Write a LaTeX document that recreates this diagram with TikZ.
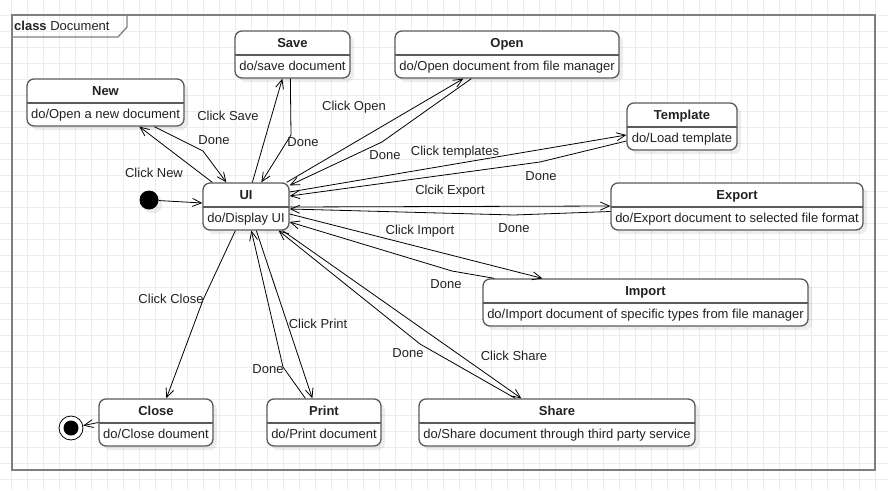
\documentclass[tikz,border=0pt]{standalone}
\usepackage{fontspec}
\setmainfont{Liberation Sans}
\usetikzlibrary{arrows.meta,shadows}

\definecolor{gridgray}{HTML}{EDEDED}
\definecolor{framegray}{HTML}{7F7F7F}
\definecolor{boxgray}{HTML}{5A5A5A}
\definecolor{txtgray}{HTML}{222222}

\begin{document}
\begin{tikzpicture}[x=1pt,y=-1pt]
	\tikzstyle{every node}+=[inner sep=0pt, text=txtgray, font=\fontsize{13}{23}\selectfont]
	\tikzstyle{state}=[draw=boxgray, line width=1.3pt, rounded corners=7pt, fill=white,
		minimum height=47pt, align=center, text height=35pt, text depth=4pt,
		drop shadow={shadow xshift=4pt, shadow yshift=-4pt, fill=black, opacity=0.07},
		path picture={\draw[boxgray, line width=1.3pt] ([yshift=-24pt]path picture bounding box.north west) -- ([yshift=-24pt]path picture bounding box.north east);}]
	\tikzstyle{trans}=[draw=black, line width=0.8pt, -{Straight Barb[length=9pt,width=8pt]}]
	\tikzstyle{gridline}=[draw=gridgray, line width=1pt]
	\useasboundingbox (0,0) rectangle (888,490);
	% background grid
	\foreach \gx in {11.5,27.5,...,888} \draw[gridline] (\gx,0) -- (\gx,490);
	\foreach \gy in {15.5,31.5,...,490} \draw[gridline] (0,\gy) -- (888,\gy);
	% frame
	\draw[framegray, line width=2pt] (11.5,15) rectangle (875,470);
	\draw[framegray, line width=1.3pt] (11.5,37) -- (118,37) -- (127,27) -- (127,15);
	\node[anchor=west] (tag) at (14,25.5) {\textbf{class} Document};
	% states
	\node[state, minimum width=115pt] (Save) at (292.5,54.5) {\textbf{Save}\\do/save document};
	\node[state, minimum width=224pt] (Open) at (507,54.5) {\textbf{Open}\\do/Open document from file manager};
	\node[state, minimum width=157pt] (New) at (105.5,102.5) {\textbf{New}\\do/Open a new document};
	\node[state, minimum width=110pt] (Template) at (682,126.5) {\textbf{Template}\\do/Load template};
	\node[state, minimum width=86pt] (UI) at (246,206.5) {\textbf{UI}\\do/Display UI};
	\node[state, minimum width=252pt] (Export) at (737,206.5) {\textbf{Export}\\do/Export document to selected file format};
	\node[state, minimum width=325pt] (Import) at (645.5,302.5) {\textbf{Import}\\do/Import document of specific types from file manager};
	\node[state, minimum width=114pt] (Close) at (156,422.5) {\textbf{Close}\\do/Close doument};
	\node[state, minimum width=114pt] (Print) at (324,422.5) {\textbf{Print}\\do/Print document};
	\node[state, minimum width=276pt] (Share) at (557,422.5) {\textbf{Share}\\do/Share document through third party service};
	\node[circle, fill=black, minimum size=19pt, drop shadow={shadow xshift=4pt, shadow yshift=-4pt, fill=black, opacity=0.07}] (init) at (149,200) {};
	\node[circle, draw=black, line width=0.8pt, fill=white, minimum size=24pt,
		path picture={\fill[black] (path picture bounding box.center) circle (7.5pt);}] (final) at (71,428) {};
	% transitions
	\draw[trans] (init) -- ([yshift=3.5pt]UI.west);
	\draw[trans] ([xshift=10pt]UI.north west) -- ([xshift=113pt]New.south west);
	\draw[trans] ([xshift=128pt]New.south west) -- (203,151) -- ([xshift=24pt]UI.north west);
	\draw[trans] ([xshift=50pt]UI.north west) -- ([xshift=48pt]Save.south west);
	\draw[trans] ([xshift=56pt]Save.south west) -- (291,135) -- ([xshift=59pt]UI.north west);
	\draw[trans] ([xshift=-3pt]UI.north east) -- ([xshift=69pt]Open.south west);
	\draw[trans] ([xshift=77pt]Open.south west) -- (382,142) -- ([yshift=-3pt]UI.north east);
	\draw[trans] ([yshift=14.5pt]UI.east) -- ([yshift=-8.5pt]Template.west);
	\draw[trans] ([yshift=-14.5pt]Template.west) -- (540,162) -- ([yshift=10.5pt]UI.east);
	\draw[trans] ([yshift=-0.5pt]UI.east) -- ([yshift=0.5pt]Export.west);
	\draw[trans] ([yshift=-5pt]Export.west) -- (514,215) -- ([yshift=-2.5pt]UI.east);
	\draw[trans] ([yshift=-7.5pt]UI.east) -- ([xshift=60pt]Import.north west);
	\draw[trans] ([xshift=12pt]Import.north west) -- (452,271) -- ([yshift=-15.5pt]UI.east);
	\draw[trans] ([xshift=-7pt]UI.south east) -- ([xshift=103pt]Share.north west);
	\draw[trans] ([xshift=97pt]Share.north west) -- (420,344) -- ([xshift=-11pt]UI.south east);
	\draw[trans] ([xshift=54pt]UI.south west) -- ([xshift=46pt]Print.north west);
	\draw[trans] ([xshift=39pt]Print.north west) -- (283,367) -- ([xshift=49pt]UI.south west);
	\draw[trans] ([xshift=33pt]UI.south west) -- (203,300) -- ([xshift=68pt]Close.north west);
	\draw[trans] (Close.west) -- (final);
	% labels
	\node (cNew) at (154,173) {Click New};
	\node (cSave) at (228,116) {Click Save};
	\node (dNew) at (214,140) {Done};
	\node (dSave) at (303,142) {Done};
	\node (cOpen) at (354,107) {Click Open};
	\node (dOpen) at (385,155) {Done};
	\node (cTemplate) at (455,152) {Click templates};
	\node (dTemplate) at (541,176) {Done};
	\node (cExport) at (450,191) {Clcik Export};
	\node (dExport) at (514,228) {Done};
	\node (cImport) at (420,231) {Click Import};
	\node (dImport) at (446,284) {Done};
	\node (cClose) at (171,299) {Click Close};
	\node (cPrint) at (318,324) {Click Print};
	\node (dPrint) at (268,369) {Done};
	\node (dShare) at (408,353) {Done};
	\node (cShare) at (514,356) {Click Share};
\end{tikzpicture}
\end{document}
